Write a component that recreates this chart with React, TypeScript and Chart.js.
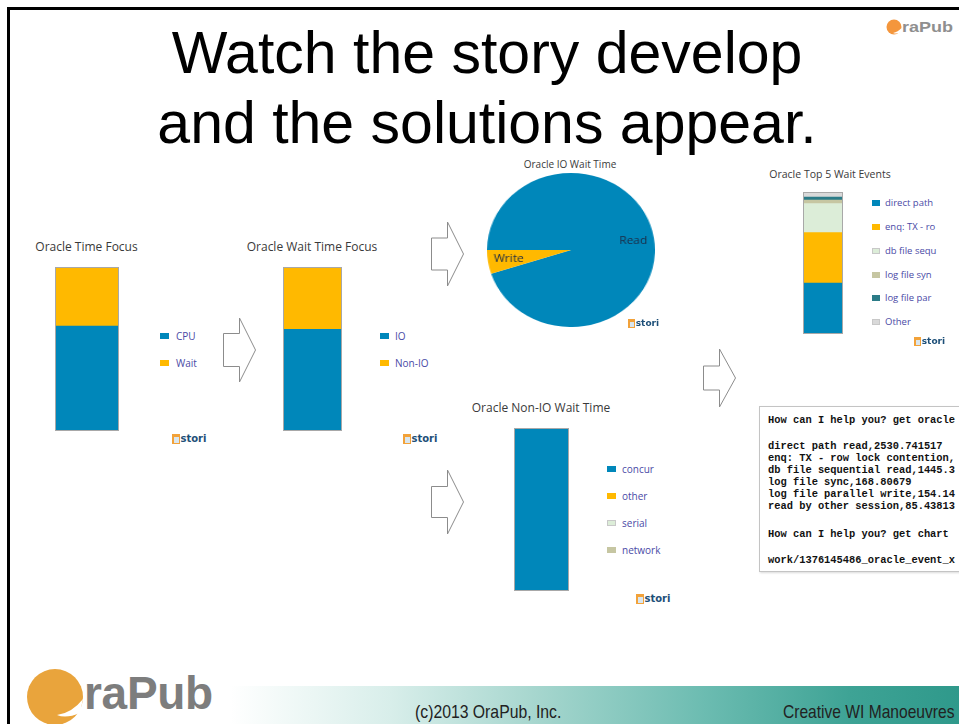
import React, { useEffect, useRef } from "react";
import { Chart, registerables } from "chart.js";

Chart.register(...registerables);

// ---------- data ----------
const timeFocusLabels = ["CPU", "Wait"];
const timeFocusValues = [64, 36];

const waitFocusLabels = ["IO", "Non-IO"];
const waitFocusValues = [62, 38];

const ioWaitLabels = ["Read", "Write"];
const ioWaitValues = [95, 5];

const nonIoLabels = ["concur", "other", "serial", "network"];
const nonIoValues = [99.4, 0.3, 0.2, 0.1];

const top5Labels = ["direct path", "enq: TX - ro", "db file sequ", "log file syn", "log file par", "Other"];
const top5Values = [2530.74, 2497.1, 1445.37, 168.81, 154.15, 250];

const consoleLines = [
  "How can I help you? get oracle",
  "",
  "direct path read,2530.741517",
  "enq: TX - row lock contention,",
  "db file sequential read,1445.3",
  "log file sync,168.80679",
  "log file parallel write,154.14",
  "read by other session,85.43813",
  "",
  "How can I help you? get chart",
  "",
  "work/1376145486_oracle_event_x",
];

// ---------- styles ----------
const BLUE = "#0087ba";
const YELLOW = "#ffb900";
const LGREEN = "#dcedd8";
const KHAKI = "#c6c6a2";
const TEAL = "#2b7b87";
const LGRAY = "#d9d9d9";

const pairColors = [BLUE, YELLOW];
const nonIoColors = [BLUE, YELLOW, LGREEN, KHAKI];
const top5Colors = [BLUE, YELLOW, LGREEN, KHAKI, TEAL, LGRAY];

const consoleLineHeights = [12, 14, 12, 12, 12, 12, 12, 12, 16, 12, 14, 12];

const TITLE_FONT = "'Open Sans', 'DejaVu Sans', sans-serif";
const LEGEND_COLOR = "#4a4aa6";

const outlinePlugin = {
  id: "outline",
  afterDatasetsDraw(chart: any) {
    const { ctx, chartArea } = chart;
    ctx.save();
    ctx.strokeStyle = "#a8a8a8";
    ctx.lineWidth = 1;
    ctx.strokeRect(
      chartArea.left + 0.5,
      chartArea.top + 0.5,
      chartArea.right - chartArea.left - 1,
      chartArea.bottom - chartArea.top - 1
    );
    ctx.restore();
  },
};

function StackedBar(props: {
  labels: string[];
  values: number[];
  colors: string[];
  left: number;
  top: number;
  width: number;
  height: number;
}) {
  const { labels, values, colors, left, top, width, height } = props;
  const ref = useRef<HTMLCanvasElement>(null);
  useEffect(() => {
    const total = values.reduce((a, b) => a + b, 0);
    const chart = new Chart(ref.current!, {
      type: "bar",
      data: {
        labels: [""],
        datasets: labels.map((l, i) => ({
          label: l,
          data: [values[i]],
          backgroundColor: colors[i],
          borderWidth: 0,
          barPercentage: 1,
          categoryPercentage: 1,
        })),
      },
      options: {
        animation: false,
        responsive: false,
        events: [],
        layout: { padding: 0 },
        plugins: { legend: { display: false }, tooltip: { enabled: false }, title: { display: false } },
        scales: {
          x: { display: false, stacked: true },
          y: { display: false, stacked: true, min: 0, max: total },
        },
      } as any,
      plugins: [outlinePlugin],
    });
    return () => chart.destroy();
  }, []);
  return (
    <canvas
      ref={ref}
      width={width}
      height={height}
      style={{ position: "absolute", left, top, width, height }}
    />
  );
}

const pieLabelPlugin = {
  id: "pieLabels",
  afterDatasetsDraw(chart: any) {
    const { ctx } = chart;
    const meta = chart.getDatasetMeta(0);
    ctx.save();
    ctx.font = "11px 'Open Sans', 'DejaVu Sans', sans-serif";
    ctx.fillStyle = "#1c2b45";
    ctx.textAlign = "center";
    ctx.textBaseline = "middle";
    meta.data.forEach((arc: any, i: number) => {
      const p = arc.getProps(["x", "y", "startAngle", "endAngle", "outerRadius"], true);
      const mid = (p.startAngle + p.endAngle) / 2;
      const r = p.outerRadius * 0.75;
      ctx.fillText(chart.data.labels[i], p.x + Math.cos(mid) * r, p.y + Math.sin(mid) * r);
    });
    ctx.restore();
  },
};

function IoPie() {
  const ref = useRef<HTMLCanvasElement>(null);
  useEffect(() => {
    const chart = new Chart(ref.current!, {
      type: "pie",
      data: {
        labels: ioWaitLabels,
        datasets: [{ data: ioWaitValues, backgroundColor: pairColors, borderWidth: 0 }],
      },
      options: {
        animation: false,
        responsive: false,
        events: [],
        rotation: 270,
        layout: { padding: 0 },
        plugins: { legend: { display: false }, tooltip: { enabled: false } },
      } as any,
      plugins: [pieLabelPlugin],
    });
    return () => chart.destroy();
  }, []);
  return (
    <div style={{ position: "absolute", left: 487, top: 173, width: 168, height: 154 }}>
      <canvas
        ref={ref}
        width={154}
        height={154}
        style={{ position: "absolute", left: 0, top: 0, width: 154, height: 154, transform: "scaleX(1.0909)", transformOrigin: "0 0" }}
      />
    </div>
  );
}

function ChartTitle({ text, cx, cy, size }: { text: string; cx: number; cy: number; size: number }) {
  return (
    <div
      style={{
        position: "absolute",
        left: cx - 150,
        width: 300,
        top: cy - 10,
        height: 20,
        lineHeight: "20px",
        textAlign: "center",
        fontFamily: TITLE_FONT,
        fontSize: size,
        color: "#3a3a3a",
        whiteSpace: "nowrap",
      }}
    >
      {text}
    </div>
  );
}

function Legend(props: { labels: string[]; colors: string[]; x: number; cys: number[]; textDx: number; size: number; sw: number; sh: number }) {
  const { labels, colors, x, cys, textDx, size, sw, sh } = props;
  return (
    <>
      {labels.map((l, i) => (
        <React.Fragment key={l}>
          <div
            style={{
              position: "absolute",
              left: x,
              top: cys[i] - sh / 2,
              width: sw,
              height: sh,
              background: colors[i],
              boxSizing: "border-box",
              border: colors[i] === LGREEN || colors[i] === LGRAY ? "1px solid #c8c8c8" : "none",
            }}
          />
          <div
            style={{
              position: "absolute",
              left: x + textDx,
              top: cys[i] - 8,
              height: 16,
              lineHeight: "16px",
              fontFamily: TITLE_FONT,
              fontSize: size,
              color: LEGEND_COLOR,
              whiteSpace: "nowrap",
            }}
          >
            {l}
          </div>
        </React.Fragment>
      ))}
    </>
  );
}

function Stori({ x, cy, size }: { x: number; cy: number; size: number }) {
  return (
    <div style={{ position: "absolute", left: x, top: cy - 7, height: 14, display: "flex", alignItems: "center" }}>
      <div style={{ position: "relative", width: size * 0.75, height: size, background: "#f2a23a", marginRight: 1 }}>
        <div style={{ position: "absolute", left: 2, top: 3, width: size * 0.45, height: size * 0.6, background: "#d9e6ef" }} />
      </div>
      <span
        style={{
          fontFamily: "'DejaVu Sans', sans-serif",
          fontWeight: 700,
          fontSize: size,
          color: "#1d4f78",
          lineHeight: "14px",
        }}
      >
        stori
      </span>
    </div>
  );
}

function arrowPoints(x0: number, cy: number, w: number, h: number, shaftH: number) {
  const xb = x0 + w / 2;
  const xt = x0 + w;
  return [
    [x0, cy - shaftH / 2],
    [xb, cy - shaftH / 2],
    [xb, cy - h / 2],
    [xt, cy],
    [xb, cy + h / 2],
    [xb, cy + shaftH / 2],
    [x0, cy + shaftH / 2],
  ]
    .map((p) => p.join(","))
    .join(" ");
}

export default function App() {
  return (
    <div
      style={{
        position: "fixed",
        left: 0,
        top: 0,
        width: 959,
        height: 724,
        overflow: "hidden",
        background: "#ffffff",
      }}
    >
      {/* slide border */}
      <div
        style={{
          position: "absolute",
          left: 7,
          top: 7,
          width: 970,
          height: 740,
          borderTop: "3px solid #000",
          borderLeft: "3px solid #000",
        }}
      />

      {/* footer band */}
      <div
        style={{
          position: "absolute",
          left: 230,
          top: 686,
          width: 729,
          height: 38,
          background:
            "linear-gradient(90deg, #ffffff 0%, #d8eeea 22%, #a6d6ce 42%, #6cbcb1 65%, #3ea395 85%, #2f998b 100%)",
        }}
      />

      {/* main title */}
      <div
        style={{
          position: "absolute",
          left: 0,
          width: 974,
          top: 18,
          textAlign: "center",
          fontFamily: "'Liberation Sans', Arial, sans-serif",
          fontSize: 59,
          lineHeight: "70px",
          color: "#000",
        }}
      >
        <div>Watch the story develop</div>
        <div>and the solutions appear.</div>
      </div>

      {/* arrows & logos */}
      <svg width={959} height={724} style={{ position: "absolute", left: 0, top: 0 }}>
        <g fill="#ffffff" stroke="#8c8c8c" strokeWidth={1}>
          <polygon points={arrowPoints(223.5, 350, 32, 64, 33)} />
          <polygon points={arrowPoints(431.5, 254, 32, 64, 32)} />
          <polygon points={arrowPoints(431.5, 502, 32, 64, 31)} />
          <polygon points={arrowPoints(703.5, 378, 32, 58, 24)} />
        </g>
        {/* big OraPub logo */}
        <circle cx={55} cy={697} r={28} fill="#e9a43c" />
        <path d="M 83 699 Q 72 713 57 715 Q 66 719 80 713 Z" fill="#ffffff" />
        {/* small OraPub logo */}
        <circle cx={894} cy={27} r={7.5} fill="#f4963c" />
        <path d="M 901.5 28 Q 898 32 893 33 Q 897 34.5 901 32 Z" fill="#ffffff" />
      </svg>

      <div
        style={{
          position: "absolute",
          left: 84,
          top: 668,
          fontFamily: "'Liberation Sans', Arial, sans-serif",
          fontWeight: 700,
          fontSize: 46,
          lineHeight: "50px",
          color: "#7d7d7d",
          letterSpacing: -0.3,
        }}
      >
        raPub
      </div>
      <div
        style={{
          position: "absolute",
          left: 902,
          top: 18,
          fontFamily: "'Liberation Sans', Arial, sans-serif",
          fontWeight: 700,
          fontSize: 15,
          lineHeight: "18px",
          color: "#8f8f8f",
          transform: "scaleX(1.2)",
          transformOrigin: "0 0",
        }}
      >
        raPub
      </div>

      {/* footer texts */}
      <div
        style={{
          position: "absolute",
          left: 415,
          top: 700,
          fontFamily: "'Liberation Sans', Arial, sans-serif",
          fontSize: 19,
          lineHeight: "24px",
          color: "#222",
          whiteSpace: "nowrap",
          transform: "scaleX(0.83)",
          transformOrigin: "0 0",
        }}
      >
        (c)2013 OraPub, Inc.
      </div>
      <div
        style={{
          position: "absolute",
          left: 783,
          top: 700,
          fontFamily: "'Liberation Sans', Arial, sans-serif",
          fontSize: 19,
          lineHeight: "24px",
          color: "#222",
          whiteSpace: "nowrap",
          transform: "scaleX(0.82)",
          transformOrigin: "0 0",
        }}
      >
        Creative WI Manoeuvres
      </div>

      {/* Oracle Time Focus */}
      <ChartTitle text="Oracle Time Focus" cx={86.5} cy={247} size={12} />
      <StackedBar labels={timeFocusLabels} values={timeFocusValues} colors={pairColors} left={55} top={267} width={64} height={164} />
      <Legend labels={timeFocusLabels} colors={pairColors} x={160} cys={[336, 363]} textDx={16} size={10} sw={9} sh={6} />
      <Stori x={172} cy={439} size={10} />

      {/* Oracle Wait Time Focus */}
      <ChartTitle text="Oracle Wait Time Focus" cx={312} cy={247} size={12} />
      <StackedBar labels={waitFocusLabels} values={waitFocusValues} colors={pairColors} left={283} top={267} width={59} height={164} />
      <Legend labels={waitFocusLabels} colors={pairColors} x={380} cys={[336, 363]} textDx={15} size={10} sw={9} sh={6} />
      <Stori x={403} cy={439} size={10} />

      {/* Oracle IO Wait Time */}
      <ChartTitle text="Oracle IO Wait Time" cx={570} cy={164} size={10} />
      <IoPie />
      <Stori x={628} cy={323} size={9} />

      {/* Oracle Top 5 Wait Events */}
      <ChartTitle text="Oracle Top 5 Wait Events" cx={830} cy={174} size={10.5} />
      <StackedBar labels={top5Labels} values={top5Values} colors={top5Colors} left={803} top={192} width={40} height={142} />
      <Legend labels={top5Labels} colors={top5Colors} x={872} cys={[203, 227, 251, 275, 298, 322]} textDx={13} size={9.5} sw={8} sh={6} />
      <Stori x={914} cy={341} size={9} />

      {/* Oracle Non-IO Wait Time */}
      <ChartTitle text="Oracle Non-IO Wait Time" cx={541} cy={408} size={12} />
      <StackedBar labels={nonIoLabels} values={nonIoValues} colors={nonIoColors} left={514} top={428} width={55} height={163} />
      <Legend labels={nonIoLabels} colors={nonIoColors} x={607} cys={[469, 496, 523, 550]} textDx={15} size={10} sw={9} sh={6} />
      <Stori x={636} cy={599} size={10} />

      {/* console box */}
      <div
        style={{
          position: "absolute",
          left: 759,
          top: 406,
          width: 300,
          height: 166,
          boxSizing: "border-box",
          border: "1px solid #c4c4c4",
          boxShadow: "1px 1px 2px rgba(0,0,0,0.15)",
          background: "#fff",
          paddingTop: 7,
          paddingLeft: 8,
          fontFamily: "'Liberation Mono', 'Courier New', monospace",
          fontWeight: 700,
          fontSize: 10.4,
          color: "#111",
          whiteSpace: "pre",
        }}
      >
        {consoleLines.map((l, i) => (
          <div key={i} style={{ height: consoleLineHeights[i], lineHeight: consoleLineHeights[i] + "px" }}>
            {l}
          </div>
        ))}
      </div>
    </div>
  );
}
